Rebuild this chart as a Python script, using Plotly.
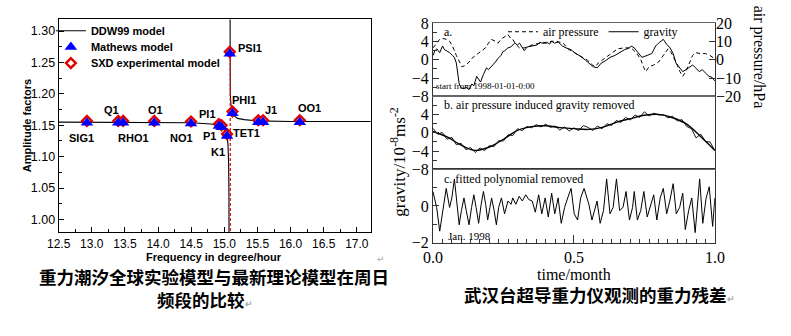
import plotly.graph_objects as go

W, H = 791, 336

# ---------------- left chart: tidal amplitude factors ----------------
tide_names = ["SIG1", "Q1", "RHO1", "O1", "NO1", "PI1", "P1", "K1", "PSI1", "PHI1", "TET1", "J1", "OO1"]
tide_freq = [12.927, 13.399, 13.472, 13.943, 14.497, 14.918, 14.959, 15.041, 15.082, 15.123, 15.513, 15.585, 16.139]
mathews_amp = [1.154, 1.154, 1.154, 1.154, 1.153, 1.149, 1.147, 1.133, 1.264, 1.169, 1.155, 1.155, 1.155]
sxd_amp = [1.157, 1.157, 1.157, 1.157, 1.156, 1.152, 1.150, 1.136, 1.267, 1.172, 1.158, 1.158, 1.158]

ddw_left_freq = [12.5, 13.0, 13.5, 14.0, 14.5, 14.8, 14.918, 14.959, 15.0, 15.02, 15.041, 15.055, 15.065, 15.07, 15.073, 15.075]
ddw_left_amp = [1.155, 1.155, 1.155, 1.155, 1.154, 1.152, 1.150, 1.148, 1.144, 1.140, 1.133, 1.120, 1.090, 1.040, 0.950, 0.600]
ddw_right_freq = [15.0775, 15.078, 15.079, 15.082, 15.09, 15.10, 15.123, 15.15, 15.2, 15.3, 15.5, 16.0, 17.3]
ddw_right_amp = [1.750, 1.550, 1.400, 1.265, 1.200, 1.183, 1.170, 1.165, 1.161, 1.159, 1.157, 1.156, 1.156]

sxd_curve_freq = [15.09, 15.09]
sxd_curve_amp = [0.95, 1.267]

# ---------------- right chart: Wuhan SG residuals ----------------
grav_t = [0, .007, .014, .024, .034, .041, .048, .059, .069, .076,
          .083, .086, .090, .093, .100, .110, .117, .128, .138, .145,
          .155, .162, .169, .179, .190, .197, .207, .214, .221, .231,
          .241, .248, .255, .266, .276, .290, .300, .307, .317, .324,
          .334, .352, .369, .379, .386, .403, .414, .421, .431, .445,
          .459, .472, .490, .507, .524, .541, .555, .569, .583, .597,
          .610, .628, .645, .662, .679, .697, .703, .714, .731, .741,
          .759, .776, .790, .800, .817, .828, .841, .852, .862, .876,
          .886, .897, .910, .921, .931, .945, .955, .966, .979, .990,
          1.0]
grav_val = [0.93, 1.97, 2.39, 1.56, 3.01, 2.18, 1.97, 1.56, 0.93, 0.52,
            -0.73, -2.18, -3.64, -5.30, -6.13, -6.34, -5.92, -6.55, -5.30, -5.71,
            -3.64, -4.26, -4.88, -3.22, -1.77, -2.18, -1.56, -1.14, -0.52, 0.31,
            0.93, 1.77, 1.97, 2.60, 2.80, 3.64, 3.22, 3.64, 2.80, 1.97,
            2.80, 3.01, 3.22, 3.84, 3.64, 3.84, 3.43, 4.05, 3.64, 3.84,
            3.01, 2.60, 2.18, 1.35, 0.73, -0.10, -0.73, -1.56, -1.77, -0.73,
            -0.31, 0.52, 0.93, 1.56, 2.18, 2.60, 3.01, 2.60, 1.35, 0.52,
            0.93, 1.35, 3.01, 3.64, 4.47, 3.43, 2.60, 1.35, -0.73, -1.77,
            -2.60, -2.18, -1.56, -1.14, -1.77, -2.60, -2.18, -2.81, -3.64, -3.84,
            -4.68]

pres_t = [0, .014, .024, .034, .048, .059, .069, .083, .093, .103,
          .117, .128, .138, .152, .162, .172, .186, .197, .207, .221,
          .231, .241, .255, .266, .276, .283, .293, .307, .324, .345,
          .362, .386, .403, .421, .438, .462, .479, .507, .531, .548,
          .566, .576, .586, .610, .634, .655, .679, .703, .724, .738,
          .748, .755, .766, .783, .800, .817, .834, .845, .862, .876,
          .886, .897, .910, .921, .931, .948, .966, .983, .997, 1.0]
pres_val = [6.49, 9.09, 11.17, 11.69, 11.17, 10.13, 7.53, 2.34, -1.30, -3.90,
            -2.86, -1.30, 0.78, 2.34, 3.38, 4.93, 6.49, 9.09, 11.17, 10.13,
            9.09, 11.17, 12.73, 13.77, 11.69, 11.17, 8.57, 6.49, 6.49, 7.53,
            8.57, 9.09, 9.09, 10.13, 10.13, 9.09, 5.97, 3.38, 1.30, -0.26,
            -2.86, -3.90, -1.82, 0.78, 3.38, 5.97, 6.49, 6.49, 3.38, -0.26,
            -4.42, -6.49, -3.90, -2.86, -1.30, 2.34, 5.97, 3.90, -1.30, -6.49,
            -9.09, -6.49, -1.30, 2.34, 3.90, 3.38, 3.38, 2.34, 0.78, -0.26]

resid_b_t = [0, .017, .033, .05, .067, .083, .1, .117, .133, .15,
             .167, .183, .2, .217, .233, .25, .267, .283, .3, .317,
             .333, .35, .367, .383, .4, .417, .433, .45, .467, .483,
             .5, .517, .533, .55, .567, .583, .6, .617, .633, .65,
             .667, .683, .7, .717, .733, .75, .767, .783, .8, .817,
             .833, .85, .867, .883, .9, .917, .933, .95, .967, .983,
             1.0]
resid_b_val = [1.0, -0.3, 0.1, -1.4, -1.0, -2.6, -2.3, -3.7, -3.2, -4.3,
               -3.3, -3.9, -2.8, -3.0, -1.7, -1.8, -0.4, -0.6, 0.9, 0.5,
               1.4, 1.1, 1.8, 1.3, 1.9, 1.2, 1.5, 0.6, 1.3, 0.4,
               1.1, 0.5, 1.6, 1.2, 0.5, 1.5, 0.9, 2.0, 1.6, 2.7,
               2.3, 3.4, 2.8, 3.9, 3.4, 4.6, 3.7, 4.3, 3.9, 4.0,
               3.3, 3.6, 2.6, 2.9, 1.4, 0.9, -1.1, -0.3, -1.9, -2.0,
               -3.9]

fit_b_t = [0, .05, .1, .15, .2, .25, .3, .35, .4, .45, .5,
           .55, .6, .65, .7, .75, .8, .85, .9, .95, 1.0]
fit_b_val = [0.3, -0.9, -2.7, -3.84, -3.1, -1.4, 0.55, 1.35, 1.56, 1.14, 0.93,
             0.75, 1.2, 2.3, 3.1, 3.84, 4.05, 3.3, 1.9, -0.85, -3.84]

resid_c_t = [0, .013, .024, .036, .047, .059, .067, .076, .084, .093,
             .101, .110, .118, .128, .137, .145, .153, .162, .171, .179,
             .187, .194, .202, .208, .217, .225, .233, .243, .254, .266,
             .277, .283, .294, .306, .317, .329, .340, .352, .363, .375,
             .386, .398, .409, .421, .432, .444, .455, .467, .478, .490,
             .501, .513, .524, .536, .553, .564, .582, .593, .605, .616,
             .628, .639, .651, .662, .674, .685, .697, .708, .714, .725,
             .737, .748, .760, .771, .783, .794, .806, .817, .829, .840,
             .852, .863, .875, .886, .895, .907, .918, .930, .938, .946,
             .957, .969, .980, .992, 1.0]
resid_c_val = [0.79, -0.08, -1.38, -0.25, 0.96, -0.08, 0.44, 1.48, 0.44, -1.03,
               -0.25, 0.44, -0.25, -1.03, -0.08, 0.61, -0.08, -0.95, 0.09, 0.79,
               0.09, -0.77, -0.08, 0.44, -0.25, -1.03, -0.08, 0.44, -0.43, 0.27,
               0.09, 0.44, 0.09, 0.53, 0.27, 0.61, 0.35, 0.27, -0.34, 0.61,
               -0.43, 0.44, -0.60, 0.70, -0.43, 0.44, -0.95, -0.08, 0.44, 0.96,
               -0.43, -0.77, 0.44, 0.96, 0.09, -0.77, 0.27, -0.95, -0.25, 1.48,
               -0.43, -0.08, 1.48, -0.25, -0.08, 0.79, -0.77, -0.08, 0.79, -0.77,
               -0.25, 0.79, -0.60, -0.08, 0.61, -0.77, 0.44, 0.96, -0.43, 0.27,
               1.22, -0.43, -0.08, 0.70, -1.29, -0.25, 0.44, -1.46, -0.08, 1.48,
               -0.95, 0.44, 1.05, -1.12, 0.44]

# label placement for the tide names (layout, in data units)
label_x = [12.852, 13.292, 13.629, 13.966, 14.348, 14.743, 14.773, 14.905, 15.389, 15.301, 15.330, 15.711, 16.283]
label_y = [1.1295, 1.175, 1.1295, 1.175, 1.1295, 1.1673, 1.1325, 1.1068, 1.273, 1.190, 1.137, 1.175, 1.178]


def px(x):
    return x / W


def py(y):
    return 1 - y / H


SANS = "Liberation Sans"
SERIF = "Liberation Serif"
CJK = "Noto Sans CJK SC"

fig = go.Figure()

# ---- left chart traces ----
fig.add_trace(go.Scatter(
    x=ddw_left_freq + [None] + ddw_right_freq,
    y=ddw_left_amp + [None] + ddw_right_amp,
    mode="lines", line=dict(color="black", width=1.1),
    name="DDW99 model", legend="legend",
    xaxis="x", yaxis="y"))
fig.add_trace(go.Scatter(
    x=sxd_curve_freq, y=sxd_curve_amp, mode="lines",
    line=dict(color="#dd1111", width=1.3, dash="3px,2px"),
    showlegend=False, xaxis="x", yaxis="y"))
fig.add_trace(go.Scatter(
    x=tide_freq, y=sxd_amp, mode="markers",
    marker=dict(symbol="diamond", size=7.5, color="white", line=dict(color="#e00000", width=2.4)),
    name="SXD experimental model", legend="legend4",
    xaxis="x", yaxis="y"))
fig.add_trace(go.Scatter(
    x=tide_freq, y=mathews_amp, mode="markers",
    marker=dict(symbol="triangle-up", size=11, color="#0000ff", line=dict(width=0)),
    name="Mathews model", legend="legend3",
    xaxis="x", yaxis="y"))

# ---- right chart traces ----
fig.add_trace(go.Scatter(
    x=pres_t, y=pres_val, mode="lines",
    line=dict(color="black", width=1, dash="4px,3px"),
    name="air pressure", legend="legend2", xaxis="x4", yaxis="y5"))
fig.add_trace(go.Scatter(
    x=grav_t, y=grav_val, mode="lines",
    line=dict(color="black", width=1),
    name="gravity", legend="legend2", xaxis="x4", yaxis="y4"))
fig.add_trace(go.Scatter(
    x=resid_b_t, y=resid_b_val, mode="lines",
    line=dict(color="black", width=0.9),
    showlegend=False, xaxis="x3", yaxis="y3"))
fig.add_trace(go.Scatter(
    x=fit_b_t, y=fit_b_val, mode="lines",
    line=dict(color="black", width=1.4, shape="spline"),
    showlegend=False, xaxis="x3", yaxis="y3"))
fig.add_trace(go.Scatter(
    x=resid_c_t, y=resid_c_val, mode="lines",
    line=dict(color="black", width=1),
    showlegend=False, xaxis="x2", yaxis="y2"))

frame = "#333333"
rx_dom = [px(433), px(723)]

left_legend_font = dict(family=SANS, size=11, color="black", weight="bold")


def item_legend(yc):
    return dict(x=px(40), y=py(yc), xanchor="left", yanchor="middle",
                bgcolor="rgba(0,0,0,0)", borderwidth=0, font=left_legend_font)


fig.update_layout(
    width=W, height=H, margin=dict(l=0, r=0, t=0, b=0),
    paper_bgcolor="white", plot_bgcolor="white",
    showlegend=True,
    xaxis=dict(domain=[px(48), px(369)], range=[12.5, 17.21], anchor="y",
               tick0=12.5, dtick=0.5, tickformat=".1f",
               ticks="inside", ticklen=5, tickcolor="black", ticklabelstandoff=1,
               minor=dict(dtick=0.25, ticks="inside", ticklen=3, tickcolor="black"),
               showline=True, linecolor="black", linewidth=1, mirror=True,
               showgrid=False, zeroline=False,
               tickfont=dict(family=SANS, size=12, color="black")),
    yaxis=dict(domain=[py(236), py(12)], range=[0.98, 1.3186], anchor="x",
               tick0=1.0, dtick=0.05, tickformat=".2f",
               ticks="inside", ticklen=5, tickcolor="black",
               minor=dict(dtick=0.025, ticks="inside", ticklen=3, tickcolor="black"),
               showline=True, linecolor="black", linewidth=1, mirror=True,
               showgrid=False, zeroline=False,
               tickfont=dict(family=SANS, size=12.5, color="black")),
    # panel c (bottom)
    xaxis2=dict(domain=rx_dom, range=[0, 1], anchor="y2",
                tickvals=[0, 0.5, 1.0], ticktext=["0.0", "0.5", "1.0"],
                ticks="inside", ticklen=8, tickcolor=frame, ticklabelstandoff=0,
                minor=dict(tick0=0, dtick=1 / 30, ticks="inside", ticklen=4, tickcolor=frame),
                showline=True, linecolor=frame, linewidth=1, mirror=True,
                showgrid=False, zeroline=False,
                tickfont=dict(family=SERIF, size=16, color="black")),
    yaxis2=dict(domain=[py(247), py(170)], range=[-2, 2], anchor="x2",
                tickvals=[-2, 0], ticks="inside", ticklen=6, tickcolor=frame,
                minor=dict(dtick=1, ticks="inside", ticklen=4, tickcolor=frame),
                showline=True, linecolor=frame, linewidth=1, mirror=True,
                showgrid=False, zeroline=False,
                tickfont=dict(family=SERIF, size=16, color="black")),
    # panel b (middle)
    xaxis3=dict(domain=rx_dom, range=[0, 1], anchor="y3",
                showticklabels=False, ticks="",
                showline=True, linecolor="#666666", linewidth=1, mirror=True,
                showgrid=False, zeroline=False),
    yaxis3=dict(domain=[py(170), py(93)], range=[-8, 8], anchor="x3",
                tickvals=[-8, -4, 0, 4], ticks="inside", ticklen=6, tickcolor=frame,
                minor=dict(dtick=2, ticks="inside", ticklen=4, tickcolor=frame),
                showline=True, linecolor=frame, linewidth=1, mirror=True,
                showgrid=False, zeroline=False,
                tickfont=dict(family=SERIF, size=16, color="black")),
    # panel a (top)
    xaxis4=dict(domain=rx_dom, range=[0, 1], anchor="y4",
                showticklabels=False, ticks="",
                showline=True, linecolor="#666666", linewidth=1, mirror=True,
                showgrid=False, zeroline=False),
    yaxis4=dict(domain=[py(93), py(16)], range=[-8, 8], anchor="x4",
                tickvals=[-8, -4, 0, 4, 8], ticks="inside", ticklen=6, tickcolor=frame,
                minor=dict(dtick=2, ticks="inside", ticklen=4, tickcolor=frame),
                showline=True, linecolor=frame, linewidth=1, mirror=True,
                showgrid=False, zeroline=False,
                tickfont=dict(family=SERIF, size=16, color="black")),
    yaxis5=dict(range=[-20, 20], overlaying="y4", side="right", anchor="x4",
                tickvals=[-20, -10, 0, 10, 20], ticks="inside", ticklen=6, tickcolor=frame,
                showline=False, showgrid=False, zeroline=False,
                tickfont=dict(family=SERIF, size=16, color="black")),
    legend=item_legend(24),
    legend3=item_legend(41),
    legend4=item_legend(58),
    legend2=dict(orientation="h", x=px(505), y=py(25), xanchor="left", yanchor="middle",
                 bgcolor="rgba(0,0,0,0)", borderwidth=0,
                 font=dict(family=SERIF, size=12, color="black")),
)

ann = []
# tide labels
for name, lx, ly in zip(tide_names, label_x, label_y):
    ann.append(dict(x=lx, y=ly, xref="x", yref="y", text=name, showarrow=False,
                    xanchor="center", yanchor="middle",
                    font=dict(family=SANS, size=11, color="black", weight="bold")))

# left axis titles
ann.append(dict(x=px(15), y=py(124), xref="paper", yref="paper", text="Amplitude factors",
                textangle=-90, showarrow=False, xanchor="center", yanchor="middle",
                font=dict(family=SANS, size=11, color="black", weight="bold")))
ann.append(dict(x=px(208), y=py(262), xref="paper", yref="paper", text="Frequency in degree/hour",
                showarrow=False, xanchor="center", yanchor="middle",
                font=dict(family=SANS, size=11, color="black", weight="bold")))
ann.append(dict(x=px(380), y=py(264), xref="paper", yref="paper", text="↵",
                showarrow=False, xanchor="center", yanchor="middle",
                font=dict(family="DejaVu Sans", size=9, color="#aaaaaa")))

# right chart titles and panel texts
ann.append(dict(x=px(397), y=py(162), xref="paper", yref="paper",
                text="gravity/10<sup>-8</sup>ms<sup>-2</sup>",
                textangle=-90, showarrow=False, xanchor="center", yanchor="middle",
                font=dict(family=SERIF, size=17, color="black")))
ann.append(dict(x=px(768), y=py(52), xref="paper", yref="paper", text="air pressure/hPa",
                textangle=90, showarrow=False, xanchor="center", yanchor="middle",
                font=dict(family=SERIF, size=16, color="black")))
ann.append(dict(x=px(578), y=py(281), xref="paper", yref="paper", text="time/month",
                showarrow=False, xanchor="center", yanchor="middle",
                font=dict(family=SERIF, size=16, color="black")))
ann.append(dict(x=px(442), y=py(25), xref="paper", yref="paper", text="a.",
                showarrow=False, xanchor="left", yanchor="middle",
                font=dict(family=SERIF, size=12, color="black")))
ann.append(dict(x=px(434), y=py(82), xref="paper", yref="paper", text="start from 1998-01-01-0:00",
                showarrow=False, xanchor="left", yanchor="middle",
                font=dict(family=SERIF, size=9, color="black")))
ann.append(dict(x=px(442), y=py(102), xref="paper", yref="paper",
                text="b. air pressure induced gravity removed",
                showarrow=False, xanchor="left", yanchor="middle",
                font=dict(family=SERIF, size=12, color="black")))
ann.append(dict(x=px(442), y=py(180), xref="paper", yref="paper",
                text="c. fitted polynomial removed",
                showarrow=False, xanchor="left", yanchor="middle",
                font=dict(family=SERIF, size=12, color="black")))
ann.append(dict(x=px(446), y=py(240), xref="paper", yref="paper", text="Jan. 1998",
                showarrow=False, xanchor="left", yanchor="middle",
                font=dict(family=SERIF, size=11, color="black")))

# captions
ann.append(dict(x=px(208), y=py(283), xref="paper", yref="paper",
                text="重力潮汐全球实验模型与最新理论模型在周日",
                showarrow=False, xanchor="center", yanchor="middle",
                font=dict(family=CJK, size=17.5, color="black", weight="bold")))
ann.append(dict(x=px(147), y=py(307), xref="paper", yref="paper",
                text="频段的比较<span style='color:#aaaaaa;font-size:9px'>↵</span>",
                showarrow=False, xanchor="left", yanchor="middle",
                font=dict(family=CJK, size=17.5, color="black", weight="bold")))
ann.append(dict(x=px(463), y=py(302), xref="paper", yref="paper",
                text="武汉台超导重力仪观测的重力残差<span style='color:#aaaaaa;font-size:9px'>↵</span>",
                showarrow=False, xanchor="left", yanchor="middle",
                font=dict(family=CJK, size=17.5, color="black", weight="bold")))

fig.update_layout(annotations=ann)

fig.write_html("out.html")
